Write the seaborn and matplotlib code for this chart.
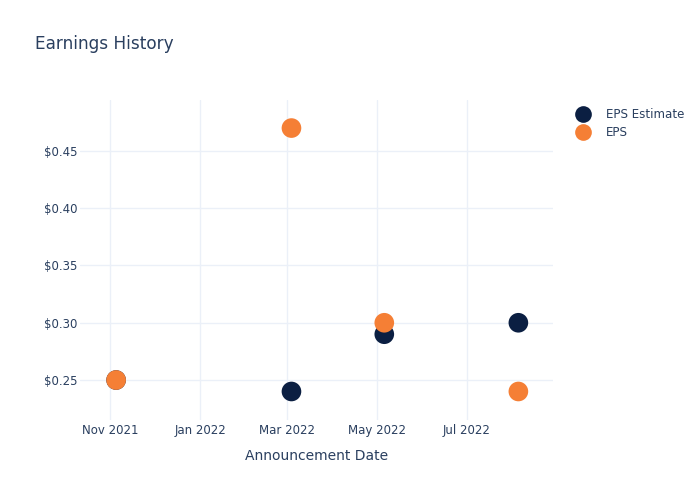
import matplotlib
matplotlib.use("Agg")
import matplotlib.pyplot as plt
import seaborn as sns
import pandas as pd

dates = ["2021-11-05", "2022-03-04", "2022-05-06", "2022-08-05"]
eps_estimate = [0.25, 0.24, 0.29, 0.30]
eps_actual = [0.25, 0.47, 0.30, 0.24]
series_names = ["EPS Estimate", "EPS"]
colors = ["#0b1f42", "#f57f35"]
ytick_vals = [0.25, 0.30, 0.35, 0.40, 0.45]
xtick_dates = ["2021-11-01", "2022-01-01", "2022-03-01", "2022-05-01", "2022-07-01"]

df = pd.DataFrame({
    "date": pd.to_datetime(dates * 2),
    "value": eps_estimate + eps_actual,
    "series": [series_names[0]] * len(dates) + [series_names[1]] * len(dates),
})

sns.set_theme(style="white")
plt.rcParams['font.family'] = ['DejaVu Sans']
text_color = "#2a3f5f"

fig = plt.figure(figsize=(7, 5), dpi=100)
ax = fig.add_axes([0.1143, 0.16, 0.79 - 0.1143, 0.64])

sns.scatterplot(data=df, x="date", y="value", hue="series", palette=colors,
                hue_order=series_names, s=200, edgecolor="none", ax=ax, zorder=3)

ax.set_ylim(0.2151, 0.4945)
ax.set_xlim(pd.Timestamp("2021-10-11 12:00"), pd.Timestamp("2022-08-28 12:00"))
ax.set_yticks(ytick_vals)
ax.set_yticklabels([f"${v:.2f}" for v in ytick_vals])
xt = pd.to_datetime(xtick_dates)
ax.set_xticks(xt)
ax.set_xticklabels([d.strftime("%b %Y") for d in xt])
ax.grid(True, color="#ebf0f8", linewidth=1)
for s in ax.spines.values():
    s.set_visible(False)
ax.tick_params(axis="both", length=0, colors=text_color, labelsize=8.5)
ax.tick_params(axis="y", pad=2)
ax.tick_params(axis="x", pad=3)
ax.set_xlabel("Announcement Date", color=text_color, fontsize=10, labelpad=8.5)
ax.set_ylabel("")

fig.text(35 / 700, 1 - 44 / 500, "Earnings History", color=text_color, fontsize=12.2, va="center", ha="left")

leg = ax.legend(loc="upper left", bbox_to_anchor=(1.028, 0.99), frameon=False,
                fontsize=8.6, handletextpad=0.9, labelspacing=0.4, markerscale=0.85,
                borderaxespad=0)
for t in leg.get_texts():
    t.set_color(text_color)

fig.savefig("out.png", dpi=100)
